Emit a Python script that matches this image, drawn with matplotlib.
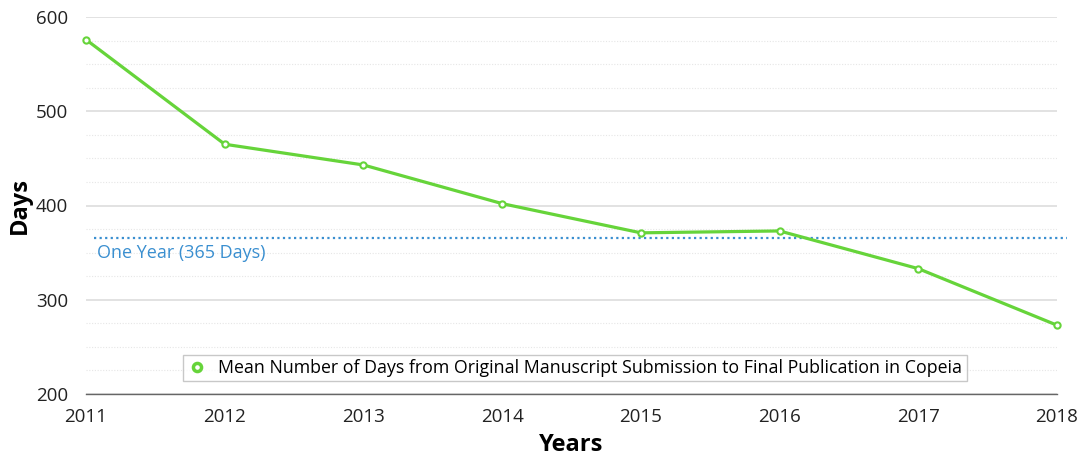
import matplotlib
matplotlib.use("Agg")
import matplotlib.pyplot as plt
from matplotlib.ticker import MultipleLocator

years = [2011, 2012, 2013, 2014, 2015, 2016, 2017, 2018]
mean_days = [576, 465, 443, 402, 371, 373, 333, 273]
one_year = 365
series_label = "Mean Number of Days from Original Manuscript Submission to Final Publication in Copeia"
ref_label = "One Year (365 Days)"

green = "#66d43a"
blue = "#3a8fd0"

plt.rcParams['font.family'] = ['Open Sans', 'DejaVu Sans']

fig = plt.figure(figsize=(10.81, 4.58), dpi=100)
ax = fig.add_axes([86/1081, 64/458, (1057-86)/1081, (394-17)/458])

ax.set_xlim(2011, 2018)
ax.set_ylim(200, 600)
ax.yaxis.set_major_locator(MultipleLocator(100))
ax.yaxis.set_minor_locator(MultipleLocator(25))
ax.set_xticks(years)

ax.grid(which='major', axis='y', color='#dddddd', linewidth=1.2, linestyle='-')
ax.grid(which='minor', axis='y', color='#e6e6e6', linewidth=0.8, linestyle=(0, (1, 1.5)))
ax.set_axisbelow(True)

for s in ['top', 'right', 'left']:
    ax.spines[s].set_visible(False)
ax.spines['bottom'].set_color('#666666')
ax.spines['bottom'].set_linewidth(1.0)

ax.tick_params(axis='both', which='both', length=0, colors='#222222')
ax.tick_params(axis='y', pad=13, labelsize=13.5)
ax.tick_params(axis='x', pad=10, labelsize=13.5)

ax.hlines(one_year, 2011.06, 2018.075, colors=blue, linestyles=(0, (1, 1.5)), linewidth=1.6, clip_on=False, zorder=2)
ax.text(2011.08, one_year - 6, ref_label, color=blue, fontsize=13, va='top', ha='left')

ax.plot(years, mean_days, color=green, linewidth=2.3, marker='o', markersize=4.5,
        markerfacecolor='white', markeredgecolor=green, markeredgewidth=1.5,
        label=series_label, zorder=3, clip_on=False)

leg = ax.legend(loc='center', bbox_to_anchor=((575 - 86) / 971, (394 - 368) / 377),
                frameon=True, fancybox=False, fontsize=12.8, handlelength=1.0,
                handletextpad=0.7, borderpad=0.25, borderaxespad=0, markerscale=1.3)
leg.get_frame().set_edgecolor('#bbbbbb')
leg.get_frame().set_linewidth(1.0)
for h in leg.legend_handles:
    h.set_linestyle('none')
    h.set_markeredgewidth(2.5)

ax.set_ylabel("Days", fontsize=17, fontweight='bold', labelpad=3)
ax.set_xlabel("Years", fontsize=17, fontweight='bold', labelpad=5)

fig.savefig("out.png", dpi=100)
